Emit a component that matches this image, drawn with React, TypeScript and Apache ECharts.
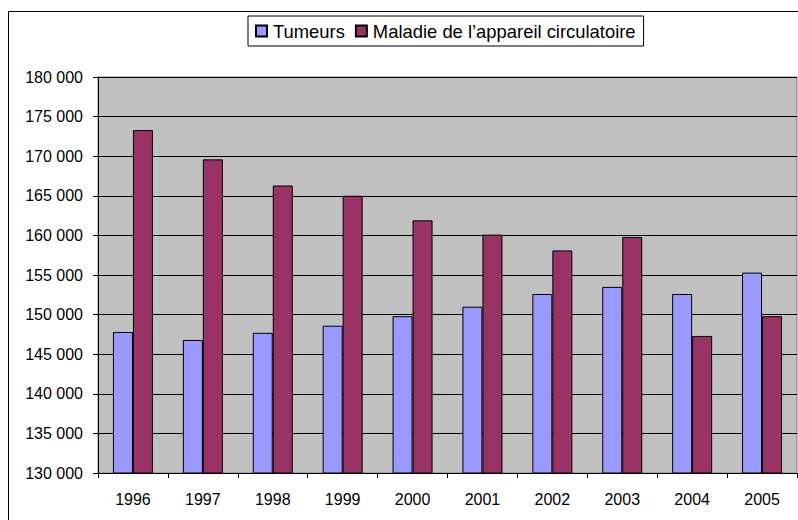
import React, { useEffect, useRef } from "react";
import * as echarts from "echarts";

const years = ["1996", "1997", "1998", "1999", "2000", "2001", "2002", "2003", "2004", "2005"];
const tumeurs = [147800, 146800, 147700, 148600, 149800, 151000, 152600, 153500, 152600, 155300];
const circulatoire = [173300, 169600, 166300, 165000, 161900, 160100, 158100, 159800, 147300, 149800];
const seriesNames = ["Tumeurs", "Maladie de l\u2019appareil circulatoire"];

const FONT = "'Liberation Sans', Arial, sans-serif";

export default function App() {
  const ref = useRef<HTMLDivElement>(null);
  useEffect(() => {
    if (!ref.current) return;
    const chart = echarts.init(ref.current, undefined, { renderer: "svg" });
    chart.setOption({
      animation: false,
      backgroundColor: "#ffffff",
      textStyle: { fontFamily: FONT },
      graphic: [
        {
          type: "rect",
          shape: { x: 8.5, y: 11.5, width: 800, height: 520 },
          style: { fill: "none", stroke: "#000", lineWidth: 1 },
          silent: true,
          z: -1,
        },
      ],
      legend: {
        left: 248,
        top: 16,
        padding: [6, 8, 6, 7],
        borderColor: "#000",
        borderWidth: 1,
        itemWidth: 11,
        itemHeight: 11,
        itemGap: 10,
        icon: "rect",
        textStyle: { fontFamily: FONT, fontSize: 18.4, color: "#000", padding: [0, 0, 0, 1] },
        data: seriesNames,
      },
      grid: {
        left: 98,
        top: 77,
        right: 1,
        bottom: 47,
        show: true,
        backgroundColor: "#C0C0C0",
        borderColor: "#808080",
        borderWidth: 1,
        containLabel: false,
      },
      xAxis: {
        type: "category",
        data: years,
        boundaryGap: true,
        axisLine: { lineStyle: { color: "#000", width: 1 } },
        axisTick: { show: true, alignWithLabel: false, length: 5, lineStyle: { color: "#000" } },
        axisLabel: { color: "#000", fontSize: 16, fontFamily: FONT, margin: 18 },
      },
      yAxis: {
        type: "value",
        min: 130000,
        max: 180000,
        interval: 5000,
        axisLine: { show: true, lineStyle: { color: "#000", width: 1 } },
        axisTick: { show: true, length: 5, lineStyle: { color: "#000" } },
        splitLine: { show: true, lineStyle: { color: "#000", width: 1 } },
        axisLabel: {
          color: "#000",
          fontSize: 16,
          fontFamily: FONT,
          margin: 15,
          formatter: (v: number) => {
            const s = String(Math.round(v));
            return s.replace(/\B(?=(\d{3})+(?!\d))/g, " ");
          },
        },
      },
      series: [
        {
          name: seriesNames[0],
          type: "bar",
          data: tumeurs,
          barWidth: 20,
          barGap: "0%",
          itemStyle: { color: "#9999FF", borderColor: "#000", borderWidth: 1 },
        },
        {
          name: seriesNames[1],
          type: "bar",
          data: circulatoire,
          barWidth: 20,
          barGap: "0%",
          itemStyle: { color: "#993366", borderColor: "#000", borderWidth: 1 },
        },
      ],
    });
    return () => chart.dispose();
  }, []);
  return (
    <div
      ref={ref}
      style={{ position: "fixed", left: 0, top: 0, width: 798, height: 520 }}
    />
  );
}
